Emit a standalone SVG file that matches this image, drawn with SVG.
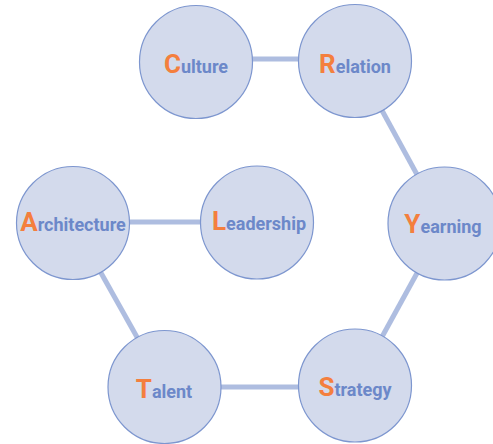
<svg xmlns="http://www.w3.org/2000/svg" width="493" height="444" viewBox="0 0 493 444">
<style>
.n{fill:#D3DAEC;stroke:#7D96CF;stroke-width:1.2}
.e{stroke:#AEBDE0;stroke-width:5;fill:none}
.t{font-family:Roboto,"Liberation Sans",sans-serif;font-weight:bold;text-anchor:middle}
.f{fill:#F47F3E;font-size:26px}
.r{fill:#6C88C9;font-size:18px}
</style>
<rect width="493" height="444" fill="#FFFFFF"/>
<g id="connectors">
<line class="e" x1="196" y1="59" x2="355" y2="59"/>
<line class="e" x1="355" y1="61" x2="444" y2="224"/>
<line class="e" x1="444" y1="224" x2="355" y2="386"/>
<line class="e" x1="355" y1="387" x2="165" y2="387"/>
<line class="e" x1="165" y1="387" x2="73" y2="223"/>
<line class="e" x1="73" y1="222" x2="257" y2="222"/>
</g>
<g id="culture"><circle class="n" cx="196" cy="62" r="56.5"/><text class="t" x="196" y="73"><tspan class="f">C</tspan><tspan class="r">ulture</tspan></text></g>
<g id="relation"><circle class="n" cx="355" cy="61" r="56.5"/><text class="t" x="355" y="73"><tspan class="f">R</tspan><tspan class="r">elation</tspan></text></g>
<g id="yearning"><circle class="n" cx="444.5" cy="223.5" r="56.5"/><text class="t" x="443" y="233"><tspan class="f">Y</tspan><tspan class="r">earning</tspan></text></g>
<g id="strategy"><circle class="n" cx="355" cy="385.5" r="56.5"/><text class="t" x="355" y="396"><tspan class="f">S</tspan><tspan class="r">trategy</tspan></text></g>
<g id="talent"><circle class="n" cx="164.5" cy="387" r="56.5"/><text class="t" x="164" y="398"><tspan class="f">T</tspan><tspan class="r">alent</tspan></text></g>
<g id="architecture"><circle class="n" cx="73" cy="223" r="56.5"/><text class="t" x="73" y="231"><tspan class="f">A</tspan><tspan class="r">rchitecture</tspan></text></g>
<g id="leadership"><circle class="n" cx="257" cy="222.5" r="56.5"/><text class="t" x="259" y="230"><tspan class="f">L</tspan><tspan class="r">eadership</tspan></text></g>
</svg>
